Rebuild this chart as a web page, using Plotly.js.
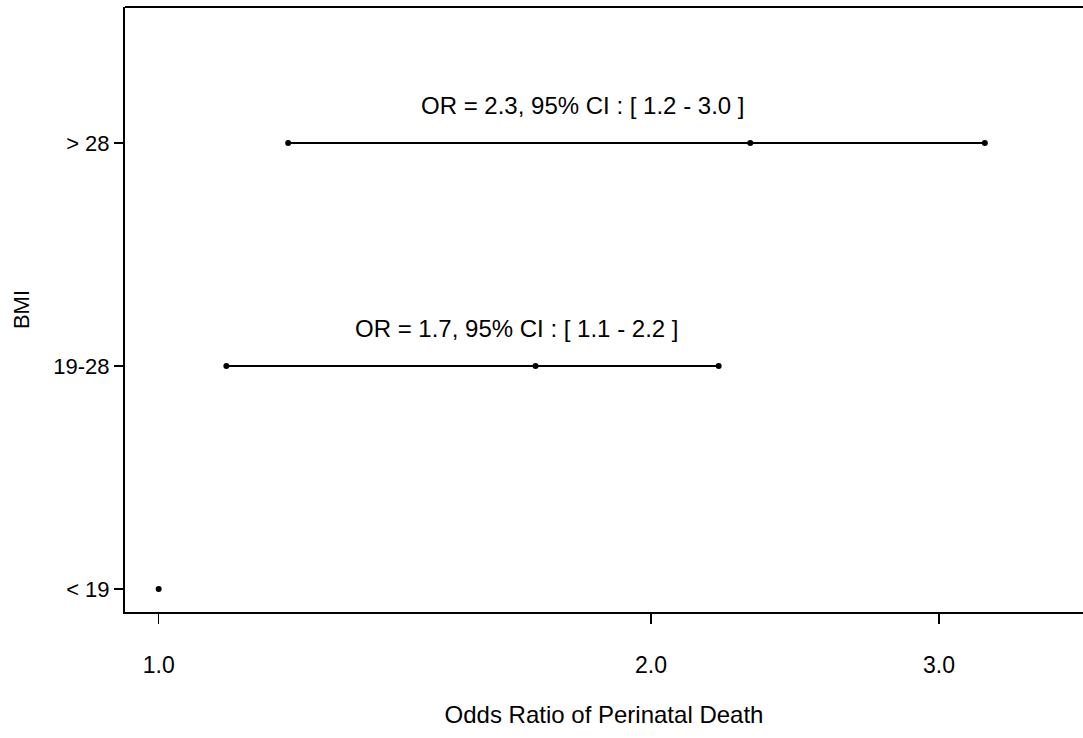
<!DOCTYPE html>
<html>
<head>
<meta charset="utf-8">
<script src="https://cdn.plot.ly/plotly-3.0.1.min.js"></script>
<style>html,body{margin:0;padding:0;background:#fff;overflow:hidden}</style>
</head>
<body>
<div id="chart" style="width:1083px;height:738px"></div>
<script>
// Data
const categories = ['< 19', '19-28', '> 28'];
const oddsRatio = [1.0, 1.7, 2.3];
const ciLower = [null, 1.1, 1.2];
const ciUpper = [null, 2.2, 3.2];
const ciLabels = ['', 'OR = 1.7, 95% CI : [ 1.1 - 2.2 ]', 'OR = 2.3, 95% CI : [ 1.2 - 3.0 ]'];
const xTickVals = [1, 2, 3];
const xTickText = ['1.0', '2.0', '3.0'];

const FONT = 'Liberation Sans, Arial, sans-serif';
const traces = [];
const annotations = [];
const labelPaperX = [0, 0.409, 0.478];

categories.forEach((c, i) => {
  if (ciLower[i] !== null) {
    traces.push({
      type: 'scatter', mode: 'lines',
      x: [ciLower[i], ciUpper[i]], y: [c, c],
      line: {color: '#000', width: 2},
      hoverinfo: 'skip', showlegend: false
    });
    annotations.push({
      xref: 'paper', x: labelPaperX[i], yref: 'y', y: c,
      yshift: 38, text: ciLabels[i], showarrow: false,
      font: {family: FONT, size: 24, color: '#000'},
      xanchor: 'center', yanchor: 'middle'
    });
  }
});

const px = [], py = [];
categories.forEach((c, i) => {
  [ciLower[i], oddsRatio[i], ciUpper[i]].forEach(v => {
    if (v !== null) { px.push(v); py.push(c); }
  });
});
traces.push({
  type: 'scatter', mode: 'markers', x: px, y: py,
  marker: {color: '#000', size: 6},
  showlegend: false
});

const layout = {
  width: 1083, height: 738,
  margin: {l: 125, r: 0, t: 7, b: 126},
  paper_bgcolor: '#fff', plot_bgcolor: '#fff',
  font: {family: FONT, size: 22, color: '#000'},
  showlegend: false,
  xaxis: {
    type: 'log',
    range: [-0.0206, 0.5652],
    tickvals: xTickVals, ticktext: xTickText,
    ticks: 'outside', ticklen: 10, tickwidth: 1.5, tickcolor: '#000',
    ticklabelstandoff: 21,
    showline: true, linecolor: '#000', linewidth: 2,
    showgrid: false, zeroline: false,
    tickfont: {family: FONT, size: 23, color: '#000'},
    title: {text: 'Odds Ratio of Perinatal Death', font: {family: FONT, size: 24, color: '#000'}, standoff: 30}
  },
  yaxis: {
    type: 'category',
    categoryorder: 'array', categoryarray: categories,
    range: [-0.103, 2.61],
    ticks: 'outside', ticklen: 9, tickwidth: 1.5, tickcolor: '#000',
    showline: true, linecolor: '#000', linewidth: 2,
    showgrid: false, zeroline: false,
    tickfont: {family: FONT, size: 22, color: '#000'},
    title: {text: 'BMI', font: {family: FONT, size: 22, color: '#000'}, standoff: 18}
  },
  shapes: [{
    type: 'line', xref: 'paper', yref: 'paper',
    x0: 0, x1: 1, y0: 1, y1: 1,
    line: {color: '#000', width: 2}
  }],
  annotations: annotations
};

Plotly.newPlot('chart', traces, layout, {displayModeBar: false, staticPlot: true});
</script>
</body>
</html>
